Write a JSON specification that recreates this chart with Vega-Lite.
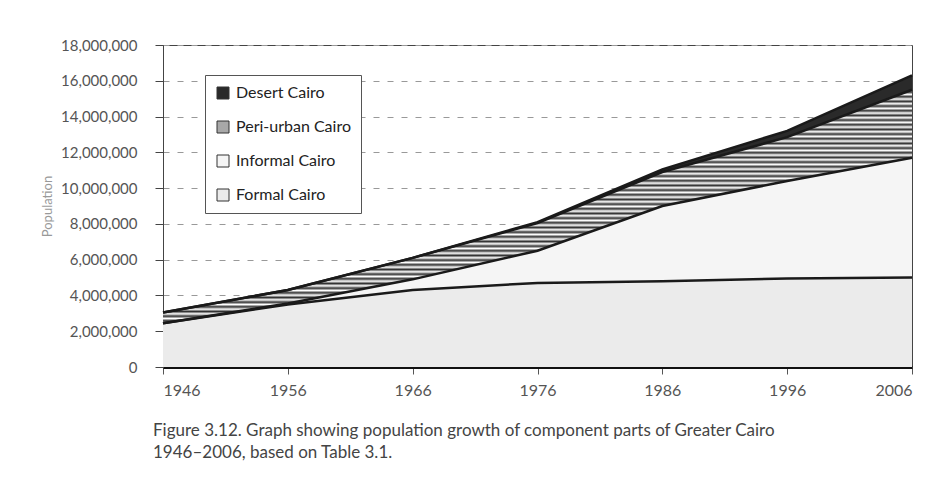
{
  "$schema": "https://vega.github.io/schema/vega-lite/v6.json",
  "autosize": "none",
  "width": 749,
  "height": 322,
  "padding": {"left": 163, "top": 45, "right": 28, "bottom": 137},
  "background": "white",
  "title": {
    "text": ["Figure 3.12. Graph showing population growth of component parts of Greater Cairo", "1946–2006, based on Table 3.1."],
    "orient": "bottom",
    "anchor": "start",
    "frame": "group",
    "dx": -10,
    "offset": 25,
    "font": "Lato",
    "fontSize": 17,
    "fontWeight": "normal",
    "color": "#444",
    "lineHeight": 22
  },
  "data": {
    "values": [
      {"year": 1946, "zone": "Formal Cairo", "pop": 2450000},
      {"year": 1946, "zone": "Informal Cairo", "pop": 0},
      {"year": 1946, "zone": "Peri-urban Cairo", "pop": 600000},
      {"year": 1946, "zone": "Desert Cairo", "pop": 0},
      {"year": 1956, "zone": "Formal Cairo", "pop": 3500000},
      {"year": 1956, "zone": "Informal Cairo", "pop": 50000},
      {"year": 1956, "zone": "Peri-urban Cairo", "pop": 750000},
      {"year": 1956, "zone": "Desert Cairo", "pop": 0},
      {"year": 1966, "zone": "Formal Cairo", "pop": 4300000},
      {"year": 1966, "zone": "Informal Cairo", "pop": 600000},
      {"year": 1966, "zone": "Peri-urban Cairo", "pop": 1200000},
      {"year": 1966, "zone": "Desert Cairo", "pop": 0},
      {"year": 1976, "zone": "Formal Cairo", "pop": 4700000},
      {"year": 1976, "zone": "Informal Cairo", "pop": 1800000},
      {"year": 1976, "zone": "Peri-urban Cairo", "pop": 1550000},
      {"year": 1976, "zone": "Desert Cairo", "pop": 50000},
      {"year": 1986, "zone": "Formal Cairo", "pop": 4800000},
      {"year": 1986, "zone": "Informal Cairo", "pop": 4200000},
      {"year": 1986, "zone": "Peri-urban Cairo", "pop": 1900000},
      {"year": 1986, "zone": "Desert Cairo", "pop": 150000},
      {"year": 1996, "zone": "Formal Cairo", "pop": 4950000},
      {"year": 1996, "zone": "Informal Cairo", "pop": 5450000},
      {"year": 1996, "zone": "Peri-urban Cairo", "pop": 2450000},
      {"year": 1996, "zone": "Desert Cairo", "pop": 350000},
      {"year": 2006, "zone": "Formal Cairo", "pop": 5000000},
      {"year": 2006, "zone": "Informal Cairo", "pop": 6700000},
      {"year": 2006, "zone": "Peri-urban Cairo", "pop": 3800000},
      {"year": 2006, "zone": "Desert Cairo", "pop": 800000}
    ]
  },
  "transform": [
    {"calculate": "indexof(['Formal Cairo','Informal Cairo','Peri-urban Cairo','Desert Cairo'], datum.zone)", "as": "rank"},
    {"stack": "pop", "groupby": ["year"], "sort": [{"field": "rank", "order": "ascending"}], "as": ["v0", "v1"]}
  ],
  "encoding": {
    "x": {
      "field": "year", "type": "quantitative",
      "scale": {"domain": [1946, 2006], "nice": false},
      "axis": {
        "title": null,
        "values": [1946, 1956, 1966, 1976, 1986, 1996, 2006],
        "format": "d",
        "grid": false,
        "labelOverlap": false,
        "domainColor": "#111",
        "domainWidth": 3,
        "tickSize": 7,
        "tickColor": "#555",
        "labelPadding": 8,
        "labelFontSize": 16
      }
    },
    "y": {
      "field": "v1", "type": "quantitative",
      "scale": {"domain": [0, 18000000], "nice": false},
      "axis": {
        "title": "Population",
        "titleColor": "#999",
        "titleFontSize": 13,
        "titleFontWeight": "normal",
        "titlePadding": 6,
        "values": [0, 2000000, 4000000, 6000000, 8000000, 10000000, 12000000, 14000000, 16000000, 18000000],
        "format": ",.0f",
        "labelOverlap": false,
        "grid": true,
        "gridDash": [6, 8],
        "gridColor": "#999",
        "gridWidth": 1,
        "domainColor": "#444",
        "tickSize": 8,
        "tickColor": "#444",
        "labelPadding": 18,
        "labelFontSize": 15
      }
    }
  },
  "layer": [
    {
      "mark": {"type": "area", "opacity": 1, "interpolate": "linear"},
      "encoding": {
        "y2": {"field": "v0"},
        "color": {
          "field": "zone", "type": "nominal",
          "scale": {
            "domain": ["Desert Cairo", "Peri-urban Cairo", "Informal Cairo", "Formal Cairo"],
            "range": ["#2a2a2a", "#a8a8a8", "#f5f5f5", "#ebebeb"]
          },
          "legend": {
            "title": null,
            "orient": "none",
            "legendX": 42,
            "legendY": 30,
            "padding": 10,
            "strokeColor": "#555",
            "fillColor": "white",
            "symbolType": "square",
            "symbolSize": 144,
            "symbolStrokeColor": "#333",
            "symbolStrokeWidth": 1,
            "labelFont": "Lato",
            "labelFontSize": 16,
            "labelColor": "#222",
            "labelOffset": 5,
            "rowPadding": 18
          }
        }
      }
    },
    {
      "transform": [{"filter": "datum.zone === 'Peri-urban Cairo'"}],
      "mark": {
        "type": "area",
        "interpolate": "linear",
        "fill": {
          "gradient": "linear", "x1": 0, "y1": 0, "x2": 0, "y2": 1,
          "stops": [
            {"offset": 0, "color": "#fff"}, {"offset": 0.01, "color": "#333"}, {"offset": 0.02, "color": "#fff"}, {"offset": 0.03, "color": "#333"}, {"offset": 0.04, "color": "#fff"},
            {"offset": 0.05, "color": "#333"}, {"offset": 0.06, "color": "#fff"}, {"offset": 0.07, "color": "#333"}, {"offset": 0.08, "color": "#fff"}, {"offset": 0.09, "color": "#333"},
            {"offset": 0.1, "color": "#fff"}, {"offset": 0.11, "color": "#333"}, {"offset": 0.12, "color": "#fff"}, {"offset": 0.13, "color": "#333"}, {"offset": 0.14, "color": "#fff"},
            {"offset": 0.15, "color": "#333"}, {"offset": 0.16, "color": "#fff"}, {"offset": 0.17, "color": "#333"}, {"offset": 0.18, "color": "#fff"}, {"offset": 0.19, "color": "#333"},
            {"offset": 0.2, "color": "#fff"}, {"offset": 0.21, "color": "#333"}, {"offset": 0.22, "color": "#fff"}, {"offset": 0.23, "color": "#333"}, {"offset": 0.24, "color": "#fff"},
            {"offset": 0.25, "color": "#333"}, {"offset": 0.26, "color": "#fff"}, {"offset": 0.27, "color": "#333"}, {"offset": 0.28, "color": "#fff"}, {"offset": 0.29, "color": "#333"},
            {"offset": 0.3, "color": "#fff"}, {"offset": 0.31, "color": "#333"}, {"offset": 0.32, "color": "#fff"}, {"offset": 0.33, "color": "#333"}, {"offset": 0.34, "color": "#fff"},
            {"offset": 0.35, "color": "#333"}, {"offset": 0.36, "color": "#fff"}, {"offset": 0.37, "color": "#333"}, {"offset": 0.38, "color": "#fff"}, {"offset": 0.39, "color": "#333"},
            {"offset": 0.4, "color": "#fff"}, {"offset": 0.41, "color": "#333"}, {"offset": 0.42, "color": "#fff"}, {"offset": 0.43, "color": "#333"}, {"offset": 0.44, "color": "#fff"},
            {"offset": 0.45, "color": "#333"}, {"offset": 0.46, "color": "#fff"}, {"offset": 0.47, "color": "#333"}, {"offset": 0.48, "color": "#fff"}, {"offset": 0.49, "color": "#333"},
            {"offset": 0.5, "color": "#fff"}, {"offset": 0.51, "color": "#333"}, {"offset": 0.52, "color": "#fff"}, {"offset": 0.53, "color": "#333"}, {"offset": 0.54, "color": "#fff"},
            {"offset": 0.55, "color": "#333"}, {"offset": 0.56, "color": "#fff"}, {"offset": 0.57, "color": "#333"}, {"offset": 0.58, "color": "#fff"}, {"offset": 0.59, "color": "#333"},
            {"offset": 0.6, "color": "#fff"}, {"offset": 0.61, "color": "#333"}, {"offset": 0.62, "color": "#fff"}, {"offset": 0.63, "color": "#333"}, {"offset": 0.64, "color": "#fff"},
            {"offset": 0.65, "color": "#333"}, {"offset": 0.66, "color": "#fff"}, {"offset": 0.67, "color": "#333"}, {"offset": 0.68, "color": "#fff"}, {"offset": 0.69, "color": "#333"},
            {"offset": 0.7, "color": "#fff"}, {"offset": 0.71, "color": "#333"}, {"offset": 0.72, "color": "#fff"}, {"offset": 0.73, "color": "#333"}, {"offset": 0.74, "color": "#fff"},
            {"offset": 0.75, "color": "#333"}, {"offset": 0.76, "color": "#fff"}, {"offset": 0.77, "color": "#333"}, {"offset": 0.78, "color": "#fff"}, {"offset": 0.79, "color": "#333"},
            {"offset": 0.8, "color": "#fff"}, {"offset": 0.81, "color": "#333"}, {"offset": 0.82, "color": "#fff"}, {"offset": 0.83, "color": "#333"}, {"offset": 0.84, "color": "#fff"},
            {"offset": 0.85, "color": "#333"}, {"offset": 0.86, "color": "#fff"}, {"offset": 0.87, "color": "#333"}, {"offset": 0.88, "color": "#fff"}, {"offset": 0.89, "color": "#333"},
            {"offset": 0.9, "color": "#fff"}, {"offset": 0.91, "color": "#333"}, {"offset": 0.92, "color": "#fff"}, {"offset": 0.93, "color": "#333"}, {"offset": 0.94, "color": "#fff"},
            {"offset": 0.95, "color": "#333"}, {"offset": 0.96, "color": "#fff"}, {"offset": 0.97, "color": "#333"}, {"offset": 0.98, "color": "#fff"}, {"offset": 0.99, "color": "#333"},
            {"offset": 1, "color": "#fff"}
          ]
        }
      },
      "encoding": {
        "y2": {"field": "v0"}
      }
    },
    {
      "mark": {"type": "line", "color": "#1a1a1a", "strokeWidth": 2.5, "interpolate": "linear"},
      "encoding": {
        "detail": {"field": "zone", "type": "nominal"}
      }
    }
  ],
  "config": {
    "font": "Lato",
    "view": {"stroke": "#444", "strokeWidth": 1},
    "axis": {"labelFont": "Lato", "titleFont": "Lato", "labelColor": "#555"}
  }
}
